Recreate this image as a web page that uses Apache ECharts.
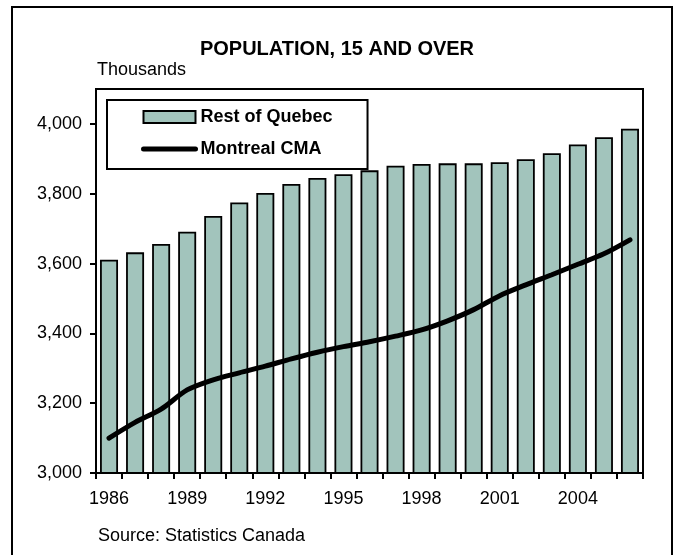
<!DOCTYPE html>
<html>
<head>
<meta charset="utf-8">
<script src="https://cdn.jsdelivr.net/npm/echarts@6/dist/echarts.min.js"></script>
<style>
html,body{margin:0;padding:0;background:#fff;}
#chart{width:674px;height:555px;}
</style>
</head>
<body>
<div id="chart"></div>
<script>
const years = ['1986','1987','1988','1989','1990','1991','1992','1993','1994','1995','1996','1997','1998','1999','2000','2001','2002','2003','2004','2005','2006'];
const restOfQuebec = [3611,3632,3656,3691,3736,3775,3802,3828,3845,3856,3867,3880,3885,3887,3887,3890,3899,3916,3941,3962,3986];
const montrealCMA = [3100,3145,3183,3238,3267,3287,3306,3327,3346,3362,3376,3392,3410,3436,3468,3508,3539,3568,3598,3628,3668];
const yTicks = [3000,3200,3400,3600,3800,4000];

const FONT = '"Liberation Sans", Arial, sans-serif';
const chart = echarts.init(document.getElementById('chart'), null, {renderer:'canvas'});
chart.setOption({
  animation:false,
  backgroundColor:'#fff',
  title:{
    text:'POPULATION, 15 AND OVER',
    left:'center', top:34,
    textStyle:{fontFamily:FONT, fontSize:20, fontWeight:'bold', color:'#000'}
  },
  graphic:[
    {type:'rect', shape:{x:12, y:7, width:660, height:560}, style:{fill:null, stroke:'#000', lineWidth:2}, silent:true},
    {type:'text', left:97, top:61, style:{text:'Thousands', font:'18px "Liberation Sans", Arial, sans-serif', fill:'#000'}},
    {type:'text', left:98, top:527, style:{text:'Source: Statistics Canada', font:'18px "Liberation Sans", Arial, sans-serif', fill:'#000'}}
  ],
  legend:{
    left:107, top:100,
    orient:'vertical',
    backgroundColor:'#fff',
    borderColor:'#000', borderWidth:2,
    padding:[7,35,10,34],
    itemGap:12,
    itemWidth:52, itemHeight:12,
    textStyle:{fontFamily:FONT, fontSize:18, fontWeight:'bold', color:'#000', lineHeight:20},
    data:[
      {name:'Rest of Quebec', icon:'rect'},
      {name:'Montreal CMA', itemStyle:{opacity:0}, lineStyle:{color:'#000', width:5, cap:'round', opacity:1}}
    ]
  },
  grid:{left:96, top:89, right:31, bottom:82, show:true, borderColor:'#000', borderWidth:2, backgroundColor:'transparent'},
  xAxis:{
    type:'category', data:years, boundaryGap:true,
    axisLine:{lineStyle:{color:'#000', width:2}},
    axisTick:{show:true, interval:0, length:6, lineStyle:{color:'#000', width:2}},
    axisLabel:{interval:2, margin:17, fontFamily:FONT, fontSize:18, color:'#000'}
  },
  yAxis:{
    type:'value', min:3000, max:4100, interval:200,
    axisLine:{show:true, lineStyle:{color:'#000', width:2}},
    axisTick:{show:true, length:6, customValues:yTicks, lineStyle:{color:'#000', width:2}},
    axisLabel:{customValues:yTicks, margin:14, fontFamily:FONT, fontSize:18, color:'#000',
      formatter:v=>v.toLocaleString('en-US')},
    splitLine:{show:false}
  },
  series:[
    {name:'Rest of Quebec', type:'bar', data:restOfQuebec, barWidth:18,
      itemStyle:{color:'#A2C4BC', borderColor:'#000', borderWidth:1.8}},
    {name:'Montreal CMA', type:'line', data:montrealCMA, smooth:0.3, symbol:'none', z:5,
      lineStyle:{color:'#000', width:5, cap:'round'}, itemStyle:{color:'#000'}}
  ]
});
</script>
</body>
</html>
